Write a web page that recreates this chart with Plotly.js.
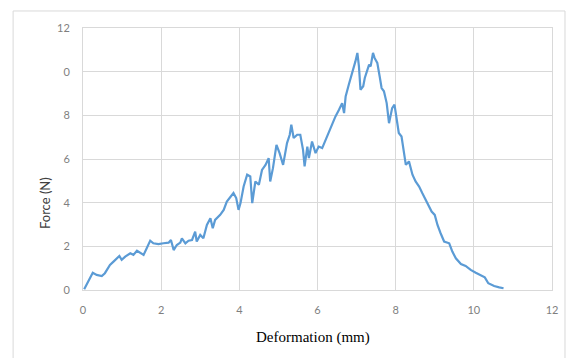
<!DOCTYPE html>
<html>
<head>
<meta charset="utf-8">
<script src="https://cdn.plot.ly/plotly-3.0.1.min.js"></script>
<style>html,body{margin:0;padding:0;background:#fff;}#chart{width:576px;height:358px;}</style>
</head>
<body>
<div id="chart"></div>
<script>
const deformation = [0.03,0.11,0.25,0.35,0.48,0.56,0.69,0.78,0.88,0.93,0.99,1.08,1.21,1.29,1.38,1.46,1.55,1.63,1.72,1.80,1.93,2.06,2.19,2.25,2.32,2.40,2.49,2.53,2.62,2.70,2.79,2.87,2.91,3.0,3.08,3.17,3.26,3.32,3.38,3.51,3.60,3.68,3.77,3.85,3.92,3.98,4.03,4.11,4.20,4.28,4.33,4.41,4.50,4.58,4.67,4.75,4.79,4.86,4.95,5.03,5.12,5.22,5.29,5.33,5.39,5.48,5.56,5.63,5.67,5.74,5.78,5.86,5.95,6.03,6.12,6.21,6.29,6.38,6.46,6.55,6.63,6.68,6.72,6.80,6.89,6.93,6.97,7.02,7.06,7.10,7.17,7.21,7.27,7.32,7.36,7.42,7.46,7.53,7.59,7.64,7.70,7.77,7.83,7.91,7.97,8.03,8.08,8.15,8.21,8.26,8.34,8.43,8.51,8.60,8.68,8.77,8.85,8.92,9.0,9.07,9.15,9.24,9.37,9.45,9.54,9.67,9.79,9.92,10.05,10.18,10.28,10.37,10.52,10.65,10.76];
const force = [0.03,0.33,0.79,0.69,0.64,0.77,1.15,1.30,1.45,1.56,1.38,1.53,1.68,1.61,1.80,1.71,1.61,1.91,2.26,2.14,2.10,2.14,2.17,2.29,1.83,2.06,2.17,2.37,2.14,2.26,2.29,2.67,2.22,2.52,2.37,2.98,3.29,2.83,3.21,3.44,3.67,4.05,4.28,4.44,4.21,3.67,3.98,4.74,5.28,5.20,3.98,4.97,4.82,5.50,5.73,6.04,4.97,5.58,6.65,6.27,5.73,6.73,7.11,7.57,6.96,7.11,7.11,6.42,5.66,6.57,6.04,6.80,6.27,6.57,6.50,6.88,7.26,7.57,7.95,8.26,8.56,8.10,8.87,9.40,9.94,10.17,10.47,10.86,10.24,9.17,9.33,9.71,10.09,10.32,10.24,10.86,10.63,10.40,9.79,9.25,9.10,8.56,7.64,8.33,8.49,7.80,7.19,7.03,6.27,5.73,5.89,5.28,4.97,4.74,4.44,4.13,3.90,3.59,3.44,2.98,2.60,2.22,2.14,1.76,1.45,1.19,1.10,0.92,0.79,0.69,0.58,0.31,0.18,0.12,0.08];
const xTickVals = [0,2,4,6,8,10,12];
const xTickText = ["0","2","4","6","8","10","12"];
const yTickVals = [0,2,4,6,8,10,12];
const yTickText = ["0","2","4","6","8","0","12"];

const tickFont = {family: "Lato, 'Open Sans', sans-serif", size: 11, color: "#7f7f7f"};
const data = [{
  x: deformation, y: force, type: "scatter", mode: "lines",
  line: {color: "#5B9BD5", width: 2.2}, hoverinfo: "skip"
}];
const layout = {
  width: 576, height: 358,
  margin: {l: 83, r: 24, t: 28, b: 68},
  paper_bgcolor: "#ffffff", plot_bgcolor: "#ffffff",
  showlegend: false,
  xaxis: {range: [0, 12], tickvals: xTickVals, ticktext: xTickText, showgrid: true,
    gridcolor: "#d9d9d9", gridwidth: 1, zeroline: false, showline: true, linecolor: "#d9d9d9",
    mirror: true, ticks: "", tickfont: tickFont, ticklabelstandoff: 10},
  yaxis: {range: [0, 12], tickvals: yTickVals, ticktext: yTickText, showgrid: true,
    gridcolor: "#d9d9d9", gridwidth: 1, zeroline: false, showline: true, linecolor: "#d9d9d9",
    mirror: true, ticks: "", tickfont: tickFont, ticklabelstandoff: 10},
  annotations: [
    {text: "Deformation (mm)", xref: "paper", yref: "paper", x: 0.49, y: -0.183,
     showarrow: false, xanchor: "center", yanchor: "middle",
     font: {family: "'Liberation Serif', 'DejaVu Serif', serif", size: 15, color: "#000000"}},
    {text: "Force (N)", xref: "paper", yref: "paper", x: -0.081, y: 0.332, textangle: -90,
     showarrow: false, xanchor: "center", yanchor: "middle",
     font: {family: "Lato, 'Open Sans', sans-serif", size: 13, color: "#404040"}}
  ],
  shapes: [
    {type: "rect", xref: "paper", yref: "paper", x0: -0.149, x1: 1.0277, y0: -0.30, y1: 1.065,
     line: {color: "#d9d9d9", width: 1}, fillcolor: "rgba(0,0,0,0)", layer: "below"}
  ]
};
Plotly.newPlot("chart", data, layout, {staticPlot: true, displayModeBar: false});
</script>
</body>
</html>
